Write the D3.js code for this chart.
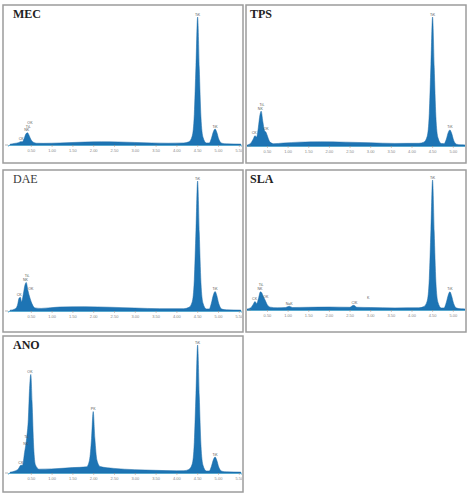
<!DOCTYPE html>
<html>
<head>
<meta charset="utf-8">
<script src="https://cdn.jsdelivr.net/npm/d3@7"></script>
<style>
  body { margin: 0; background: #fff; }
  svg { display: block; }
</style>
</head>
<body>
<script>
// EDS spectra, energy in keV vs relative counts (Ti K-alpha = 100)
const panelNames = ["MEC", "TPS", "DAE", "SLA", "ANO"]
const tickValues = [0.5, 1.0, 1.5, 2.0, 2.5, 3.0, 3.5, 4.0, 4.5, 5.0, 5.5]

const mecSpectrum = [
  [0.00, 0.6], [0.10, 1.2], [0.20, 1.8], [0.26, 2.6], [0.30, 2.6], [0.34, 5], [0.38, 8.5], [0.42, 9.6],
  [0.46, 7.5], [0.50, 4.5], [0.56, 2.2], [0.64, 1.4], [0.80, 1.3], [1.2, 1.6], [1.8, 2.3], [2.2, 2.5],
  [2.6, 2.4], [3.0, 2.0], [3.4, 1.6], [3.8, 1.4], [4.18, 1.6], [4.30, 2.5], [4.38, 7], [4.43, 24],
  [4.47, 62], [4.51, 100], [4.55, 60], [4.59, 22], [4.64, 6], [4.72, 1.6], [4.79, 1.6], [4.84, 5],
  [4.89, 10.5], [4.93, 12.5], [4.97, 10], [5.02, 4.5], [5.09, 1.4], [5.20, 0.9], [5.55, 0.7]
]
const tpsSpectrum = [
  [0.00, 0.6], [0.10, 2], [0.17, 5.5], [0.21, 8], [0.25, 7], [0.29, 14], [0.33, 24], [0.36, 27],
  [0.40, 19], [0.44, 12], [0.48, 10.5], [0.52, 7], [0.57, 3.2], [0.66, 1.8], [0.9, 2.3], [1.3, 3],
  [1.8, 3.2], [2.4, 3], [3.0, 2.5], [3.6, 2], [4.18, 2.1], [4.30, 3], [4.38, 7.5], [4.43, 25],
  [4.47, 63], [4.51, 100], [4.55, 61], [4.59, 23], [4.64, 6.5], [4.72, 1.9], [4.79, 1.8], [4.84, 5],
  [4.89, 10.5], [4.93, 12.5], [4.97, 10], [5.02, 4.5], [5.09, 1.4], [5.20, 0.9], [5.40, 0.7]
]
const daeSpectrum = [
  [0.00, 0.6], [0.12, 1.6], [0.18, 4.5], [0.22, 10], [0.25, 10.5], [0.28, 7], [0.32, 13], [0.36, 20],
  [0.39, 22], [0.43, 16], [0.48, 10], [0.53, 5.5], [0.60, 2.4], [0.75, 2], [1.2, 3.1], [1.8, 3.3],
  [2.4, 2.9], [3.0, 2.3], [3.6, 1.8], [4.18, 1.8], [4.30, 2.8], [4.38, 7], [4.43, 24], [4.47, 62],
  [4.51, 100], [4.55, 60], [4.59, 22], [4.64, 6], [4.72, 1.6], [4.79, 1.6], [4.84, 6], [4.89, 12.5],
  [4.93, 15], [4.97, 12], [5.02, 5.5], [5.09, 1.5], [5.20, 0.9], [5.55, 0.7]
]
const slaSpectrum = [
  [0.00, 0.6], [0.10, 1.6], [0.17, 4.5], [0.21, 6.5], [0.25, 5], [0.30, 9.5], [0.34, 14], [0.37, 13.5],
  [0.41, 10.5], [0.45, 8], [0.50, 4.5], [0.58, 2.2], [0.75, 1.7], [0.95, 1.9], [1.04, 2.9], [1.12, 1.9],
  [1.5, 2.1], [2.0, 2.3], [2.5, 2.1], [2.60, 3.6], [2.68, 2.1], [3.0, 1.9], [3.6, 1.6], [4.18, 1.7],
  [4.30, 2.6], [4.38, 7], [4.43, 24], [4.47, 62], [4.51, 100], [4.55, 60], [4.59, 22], [4.64, 6],
  [4.72, 1.6], [4.79, 1.6], [4.84, 5.5], [4.89, 11.5], [4.93, 14], [4.97, 11], [5.02, 5], [5.09, 1.5],
  [5.20, 0.9], [5.40, 0.7]
]
const anoSpectrum = [
  [0.00, 0.6], [0.12, 1.6], [0.20, 3.2], [0.26, 6], [0.30, 6], [0.35, 16], [0.40, 27], [0.44, 42],
  [0.47, 66], [0.50, 77], [0.53, 56], [0.57, 20], [0.61, 6.5], [0.70, 3], [1.0, 3.2], [1.5, 4.2],
  [1.84, 4.8], [1.91, 10], [1.96, 27], [2.00, 48], [2.04, 27], [2.09, 10], [2.17, 5], [2.5, 3.6],
  [3.0, 2.6], [3.5, 2.1], [4.0, 1.7], [4.18, 1.8], [4.30, 2.8], [4.38, 7], [4.43, 24], [4.47, 62],
  [4.51, 100], [4.55, 60], [4.59, 22], [4.64, 6], [4.72, 1.6], [4.79, 1.6], [4.84, 5], [4.89, 10.5],
  [4.93, 12.5], [4.97, 10], [5.02, 4.5], [5.09, 1.4], [5.20, 0.9], [5.55, 0.7]
]

// peak labels: [energy, counts, text]
const mecLabels = [[4.51, 100, "TiK"], [4.93, 12.5, "TiK"], [0.40, 9.6, "NK"], [0.44, 12.5, "TiL"], [0.48, 15.5, "OK"], [0.27, 3, "CK"]]
const tpsLabels = [[4.51, 100, "TiK"], [4.93, 12.5, "TiK"], [0.34, 27, "NK"], [0.38, 30, "TiL"], [0.48, 11, "OK"], [0.19, 8, "CK"]]
const daeLabels = [[4.51, 100, "TiK"], [4.93, 15, "TiK"], [0.37, 22, "NK"], [0.41, 25, "TiL"], [0.50, 15, "OK"], [0.22, 10.5, "CK"]]
const slaLabels = [[4.51, 100, "TiK"], [4.93, 14, "TiK"], [0.33, 14, "NK"], [0.36, 17, "TiL"], [0.47, 8, "OK"], [0.20, 6.5, "CK"], [1.04, 2.8, "NaK"], [2.62, 3.5, "ClK"], [2.95, 7, "K"]]
const anoLabels = [[4.51, 100, "TiK"], [4.93, 12.5, "TiK"], [0.48, 77, "OK"], [0.40, 26, "TiL"], [0.38, 21, "NK"], [2.00, 48, "PK"], [0.26, 6, "CK"]]

const spectra = [mecSpectrum, tpsSpectrum, daeSpectrum, slaSpectrum, anoSpectrum]
const peakLabels = [mecLabels, tpsLabels, daeLabels, slaLabels, anoLabels]

// layout of each screenshot-like frame
const frames = [
  {x: 3, y: 5, w: 240, h: 158, x0: 10, xPerKeV: 41.6, eMax: 5.55, base: 145, top: 17, tx: 13},
  {x: 246, y: 5, w: 220, h: 158, x0: 246.3, xPerKeV: 41.3, eMax: 5.3, base: 146, top: 17, tx: 250},
  {x: 3, y: 170, w: 240, h: 162, x0: 10, xPerKeV: 41.6, eMax: 5.55, base: 311, top: 181, tx: 13},
  {x: 246, y: 170, w: 220, h: 162, x0: 246.3, xPerKeV: 41.3, eMax: 5.3, base: 310, top: 180, tx: 250},
  {x: 3, y: 336, w: 240, h: 156, x0: 10, xPerKeV: 41.6, eMax: 5.55, base: 473, top: 345, tx: 13}
]

const width = 469, height = 495
const svg = d3.select("body").append("svg")
  .attr("width", width)
  .attr("height", height)
  .attr("font-family", "'Liberation Sans', Arial, sans-serif")

panelNames.forEach((name, i) => {
  const f = frames[i]
  const g = svg.append("g")

  const clipId = "clip" + i
  g.append("clipPath").attr("id", clipId)
    .append("rect")
      .attr("x", f.x + 1).attr("y", f.y + 1)
      .attr("width", f.w - 2).attr("height", f.h - 2)

  g.append("rect")
    .attr("x", f.x).attr("y", f.y)
    .attr("width", f.w).attr("height", f.h)
    .attr("fill", "#fff")
    .attr("stroke", "#9c9c9c")
    .attr("stroke-width", 1.5)

  const x = d3.scaleLinear()
    .domain([-0.05, f.eMax])
    .range([f.x0 - 0.05 * f.xPerKeV, f.x0 + f.eMax * f.xPerKeV])
  const y = d3.scaleLinear()
    .domain([0, 100])
    .range([f.base, f.top])

  const inner = g.append("g").attr("clip-path", `url(#${clipId})`)

  const area = d3.area()
    .x(d => x(d[0]))
    .y0(f.base)
    .y1(d => y(d[1]))
    .curve(d3.curveMonotoneX)

  inner.append("path")
    .datum(spectra[i])
    .attr("fill", "#1d74b4")
    .attr("stroke", "#1a6aa6")
    .attr("stroke-width", 0.5)
    .attr("d", area)

  // baseline axis
  const axis = inner.append("g")
    .attr("transform", `translate(0,${f.base})`)
    .call(d3.axisBottom(x)
      .tickValues(tickValues.filter(t => t <= f.eMax))
      .tickSize(1.5)
      .tickPadding(3)
      .tickFormat(d3.format(".2f")))
  axis.select(".domain")
    .attr("stroke", "#5aa9cf")
    .attr("stroke-width", 1)
  axis.selectAll(".tick line").attr("stroke", "#999")
  axis.selectAll(".tick text")
    .attr("font-size", 4)
    .attr("fill", "#888")

  // small y tick at left end of baseline
  inner.append("line")
    .attr("x1", f.x + 2).attr("x2", f.x + 5)
    .attr("y1", f.base).attr("y2", f.base)
    .attr("stroke", "#888")
    .attr("stroke-width", 0.6)

  inner.append("g")
    .selectAll("text")
    .data(peakLabels[i])
    .join("text")
      .attr("x", d => x(d[0]))
      .attr("y", d => y(d[1]) - 1.5)
      .attr("text-anchor", "middle")
      .attr("font-size", 3.6)
      .attr("fill", "#555")
      .text(d => d[2])

  g.append("text")
    .attr("x", f.tx)
    .attr("y", f.y + 13)
    .attr("font-family", "'Liberation Serif', 'Times New Roman', serif")
    .attr("font-weight", name === "DAE" ? "normal" : "bold")
    .attr("font-size", 12)
    .attr("fill", name === "DAE" ? "#3a3a3a" : "#222")
    .text(name)
})
</script>
</body>
</html>
